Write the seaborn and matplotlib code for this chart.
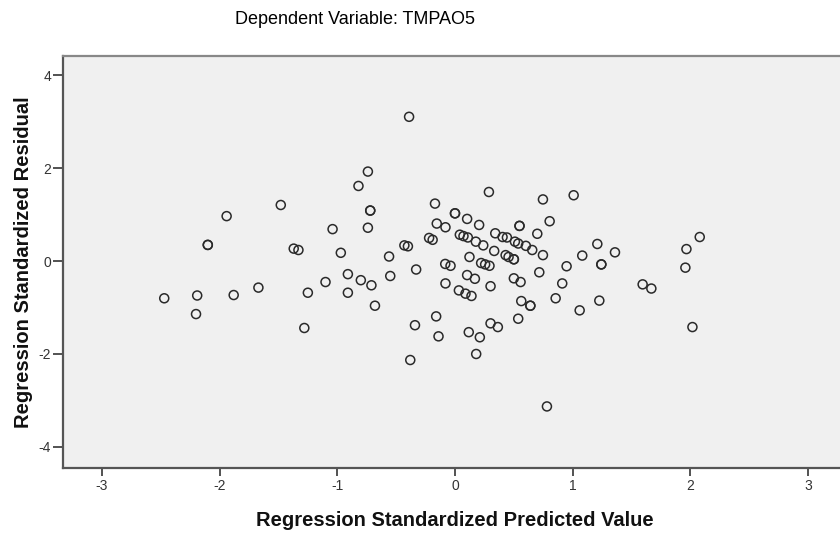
import matplotlib
matplotlib.use("Agg")
import matplotlib.pyplot as plt
import seaborn as sns
import pandas as pd

title = "Dependent Variable: TMPAO5"
x_label = "Regression Standardized Predicted Value"
y_label = "Regression Standardized Residual"
x_ticks = [-3, -2, -1, 0, 1, 2, 3]
y_ticks = [-4, -2, 0, 2, 4]

predicted = [
    -2.47, -2.19, -2.20, -2.10, -2.10, -1.94, -1.88, -1.67, -1.48, -1.37,
    -1.33, -1.28, -1.25, -1.10, -1.04, -0.97, -0.91, -0.91, -0.82, -0.80,
    -0.74, -0.74, -0.72, -0.72, -0.71, -0.68, -0.56, -0.55, -0.43, -0.40,
    -0.39, -0.38, -0.34, -0.33, -0.22, -0.19, -0.17, -0.16, -0.155, -0.14,
    -0.083, -0.081, -0.081, -0.038, 0.00, 0.00, 0.033, 0.041, 0.072, 0.089,
    0.103, 0.103, 0.109, 0.117, 0.123, 0.14, 0.169, 0.177, 0.18, 0.205,
    0.211, 0.222, 0.24, 0.256, 0.288, 0.293, 0.302, 0.302, 0.333, 0.342,
    0.364, 0.404, 0.43, 0.441, 0.455, 0.50, 0.50, 0.50, 0.509, 0.537,
    0.537, 0.548, 0.548, 0.557, 0.563, 0.602, 0.64, 0.64, 0.656, 0.699,
    0.716, 0.747, 0.747, 0.781, 0.804, 0.855, 0.911, 0.948, 1.008, 1.059,
    1.081, 1.209, 1.226, 1.243, 1.243, 1.359, 1.594, 1.668, 1.957, 1.966,
    2.017, 2.079,
]
residual = [
    -0.80, -0.74, -1.14, 0.35, 0.35, 0.97, -0.73, -0.57, 1.21, 0.27,
    0.24, -1.44, -0.68, -0.45, 0.69, 0.18, -0.28, -0.68, 1.62, -0.41,
    1.93, 0.72, 1.09, 1.09, -0.52, -0.96, 0.10, -0.32, 0.34, 0.32,
    3.11, -2.13, -1.38, -0.18, 0.50, 0.46, 1.24, -1.19, 0.81, -1.62,
    -0.06, 0.73, -0.48, -0.10, 1.03, 1.03, -0.63, 0.57, 0.54, -0.70,
    0.91, -0.30, 0.51, -1.53, 0.09, -0.75, -0.38, 0.42, -2.00, 0.78,
    -1.64, -0.04, 0.34, -0.07, 1.49, -0.10, -0.54, -1.34, 0.22, 0.60,
    -1.42, 0.52, 0.13, 0.51, 0.09, 0.04, 0.04, -0.37, 0.42, 0.38,
    -1.24, 0.76, 0.76, -0.45, -0.86, 0.33, -0.96, -0.96, 0.24, 0.59,
    -0.24, 1.33, 0.13, -3.13, 0.86, -0.80, -0.48, -0.11, 1.42, -1.06,
    0.12, 0.37, -0.85, -0.07, -0.07, 0.19, -0.50, -0.59, -0.14, 0.26,
    -1.42, 0.52,
]

df = pd.DataFrame({"pred": predicted, "resid": residual})

sns.set_style("white")
plt.rcParams["font.family"] = ["Liberation Sans", "DejaVu Sans"]
plt.rcParams["text.color"] = "black"
plt.rcParams["axes.labelcolor"] = "#111111"

fig = plt.figure(figsize=(8.4, 5.33), dpi=100)
ax = fig.add_axes([63 / 840, 1 - 467.7 / 533, (847 - 63) / 840, (467.7 - 56) / 533])
ax.set_facecolor("#f0f0f0")

sns.scatterplot(data=df, x="pred", y="resid", ax=ax, marker="o",
                s=42, facecolor="none", edgecolor="#2a2a2a", linewidth=1.1)

ax.set_xlim(-3.33, 3.33)
ax.set_ylim(-4.45, 4.42)
ax.set_xticks(x_ticks)
ax.set_yticks(y_ticks)
ax.set_xticklabels([str(t) for t in x_ticks], fontsize=10, color="#333333")
ax.set_yticklabels([str(t) for t in y_ticks], fontsize=10, color="#333333")
ax.tick_params(axis="x", direction="out", length=6, width=1.3, color="#444444",
               bottom=True, pad=2)
ax.tick_params(axis="y", direction="out", length=7, width=1.3, color="#444444",
               left=True, pad=1.5)
for side, sp in ax.spines.items():
    sp.set_color("#555555")
    sp.set_linewidth(1.6)
    sp.set_visible(True)
ax.spines["top"].set_color("#888888")

ax.set_xlabel(x_label, fontsize=14.5, fontweight="bold")
ax.set_ylabel(y_label, fontsize=14.5, fontweight="bold")
ax.xaxis.set_label_coords(0.5, -0.105)
ax.yaxis.set_label_coords(-0.038, 0.5)

fig.text(355 / 840, 1 - 20 / 533, title, ha="center", va="center", fontsize=13,
         color="black")

fig.savefig("out.png", dpi=100, facecolor="white")
